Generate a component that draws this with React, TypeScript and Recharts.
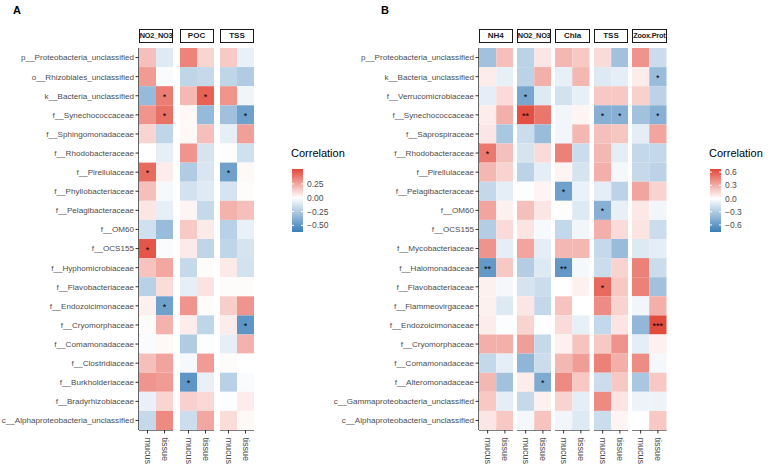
import React from "react";
import { ScatterChart, Scatter, XAxis, YAxis } from "recharts";

const sampleTypes = ["mucus", "tissue"];

// ---- panel A ----
const rowsA = [
  "p__Proteobacteria_unclassified",
  "o__Rhizobiales_unclassified",
  "k__Bacteria_unclassified",
  "f__Synechococcaceae",
  "f__Sphingomonadaceae",
  "f__Rhodobacteraceae",
  "f__Pirellulaceae",
  "f__Phyllobacteriaceae",
  "f__Pelagibacteraceae",
  "f__OM60",
  "f__OCS155",
  "f__Hyphomicrobiaceae",
  "f__Flavobacteriaceae",
  "f__Endozoicimonaceae",
  "f__Cryomorphaceae",
  "f__Comamonadaceae",
  "f__Clostridiaceae",
  "f__Burkholderiaceae",
  "f__Bradyrhizobiaceae",
  "c__Alphaproteobacteria_unclassified",
];
const facetsA = ["NO2_NO3", "POC", "TSS"];

const aNo2Mucus = [0.18, 0.28, -0.33, 0.3, 0.12, 0.0, 0.42, 0.18, 0.07, -0.15, 0.48, 0.17, -0.22, 0.04, 0.01, -0.02, 0.18, 0.3, -0.07, -0.18];
const aNo2Tissue = [-0.1, -0.02, 0.37, 0.4, -0.2, -0.08, 0.05, -0.03, -0.08, -0.32, -0.02, 0.25, 0.1, -0.45, 0.22, 0.02, 0.26, 0.28, 0.12, 0.33];
const aPocMucus = [0.35, -0.2, 0.2, 0.02, 0.02, 0.3, -0.25, -0.14, 0.03, 0.15, 0.06, -0.18, -0.08, 0.3, 0.05, -0.25, -0.03, -0.5, 0.13, -0.16];
const aPocTissue = [0.12, -0.18, 0.45, -0.33, 0.18, -0.13, -0.12, -0.1, -0.18, 0.06, -0.2, 0.01, 0.08, 0.01, -0.2, -0.01, 0.28, -0.07, 0.11, 0.25];
const aTssMucus = [0.15, -0.2, 0.3, -0.3, -0.08, -0.01, -0.45, -0.13, 0.22, -0.22, -0.2, 0.06, 0.01, 0.14, 0.05, -0.08, 0.01, -0.22, -0.01, 0.1];
const aTssTissue = [-0.07, -0.25, -0.05, -0.45, 0.27, -0.15, 0.02, 0.01, 0.18, -0.07, -0.13, -0.14, 0.01, 0.3, -0.5, 0.22, 0.0, -0.02, 0.05, 0.02];

// [facet, sample type, row, label]
const starsA: [string, string, number, string][] = [
  ["NO2_NO3", "tissue", 2, "*"],
  ["NO2_NO3", "tissue", 3, "*"],
  ["POC", "tissue", 2, "*"],
  ["TSS", "tissue", 3, "*"],
  ["NO2_NO3", "mucus", 6, "*"],
  ["TSS", "mucus", 6, "*"],
  ["NO2_NO3", "mucus", 10, "*"],
  ["NO2_NO3", "tissue", 13, "*"],
  ["TSS", "tissue", 14, "*"],
  ["POC", "mucus", 17, "*"],
];

// ---- panel B ----
const rowsB = [
  "p__Proteobacteria_unclassified",
  "k__Bacteria_unclassified",
  "f__Verrucomicrobiaceae",
  "f__Synechococcaceae",
  "f__Saprospiraceae",
  "f__Rhodobacteraceae",
  "f__Pirellulaceae",
  "f__Pelagibacteraceae",
  "f__OM60",
  "f__OCS155",
  "f__Mycobacteriaceae",
  "f__Halomonadaceae",
  "f__Flavobacteriaceae",
  "f__Flammeovirgaceae",
  "f__Endozoicimonaceae",
  "f__Cryomorphaceae",
  "f__Comamonadaceae",
  "f__Alteromonadaceae",
  "c__Gammaproteobacteria_unclassified",
  "c__Alphaproteobacteria_unclassified",
];
const facetsB = ["NH4", "NO2_NO3", "Chla", "TSS", "Zoox.Prot"];

const bNh4Mucus = [-0.36, 0.07, -0.1, 0.07, 0.09, 0.49, 0.26, -0.23, 0.33, -0.29, 0.39, -0.6, 0.05, 0.05, 0.07, 0.29, -0.23, 0.26, 0.2, 0.09];
const bNh4Tissue = [0.23, -0.09, 0.13, 0.29, -0.33, 0.23, 0.16, -0.1, 0.05, 0.13, -0.1, 0.2, -0.04, -0.13, -0.01, 0.29, -0.1, -0.36, -0.1, 0.2];
const bNo2Mucus = [-0.26, -0.26, -0.52, 0.64, -0.2, -0.16, -0.26, -0.01, 0.23, 0.1, 0.33, -0.29, -0.16, 0.09, 0.16, 0.35, -0.43, 0.07, -0.22, -0.04];
const bNo2Tissue = [0.09, 0.29, -0.13, 0.5, -0.39, 0.13, -0.1, 0.04, 0.09, -0.03, -0.1, -0.13, -0.2, -0.23, 0.0, -0.22, -0.2, -0.49, 0.05, 0.22];
const bChlaMucus = [0.26, -0.09, -0.17, -0.05, -0.05, 0.46, 0.04, -0.55, 0.01, -0.23, 0.26, -0.6, 0.0, 0.22, 0.13, 0.05, 0.26, 0.43, 0.16, -0.05];
const bChlaTissue = [0.2, 0.26, -0.09, 0.04, 0.26, -0.2, -0.16, -0.08, -0.13, -0.05, 0.26, -0.04, 0.05, 0.0, -0.09, 0.22, 0.36, 0.2, -0.1, -0.13];
const bTssMucus = [0.13, -0.13, 0.2, -0.46, 0.23, 0.26, 0.29, -0.1, -0.46, 0.29, -0.22, -0.2, 0.55, 0.42, -0.23, 0.2, 0.46, -0.2, 0.43, -0.2];
const bTssTissue = [-0.36, -0.1, 0.2, -0.46, 0.21, -0.1, -0.04, -0.26, -0.09, 0.13, -0.39, 0.16, 0.2, 0.16, 0.1, 0.39, 0.29, 0.2, 0.1, 0.04];
const bZooxMucus = [0.39, 0.07, 0.17, -0.36, -0.1, -0.23, -0.22, 0.33, 0.08, 0.1, -0.13, 0.46, 0.46, -0.05, -0.42, -0.1, 0.42, -0.33, -0.07, 0.0];
const bZooxTissue = [-0.2, -0.39, -0.26, -0.46, 0.33, -0.23, -0.26, 0.16, -0.05, -0.2, -0.1, -0.2, -0.36, 0.29, 0.66, 0.05, -0.04, 0.2, -0.07, 0.2];

const starsB: [string, string, number, string][] = [
  ["Zoox.Prot", "tissue", 1, "*"],
  ["NO2_NO3", "mucus", 2, "*"],
  ["NO2_NO3", "mucus", 3, "**"],
  ["TSS", "mucus", 3, "*"],
  ["TSS", "tissue", 3, "*"],
  ["Zoox.Prot", "tissue", 3, "*"],
  ["NH4", "mucus", 5, "*"],
  ["Chla", "mucus", 7, "*"],
  ["TSS", "mucus", 8, "*"],
  ["NH4", "mucus", 11, "**"],
  ["Chla", "mucus", 11, "**"],
  ["TSS", "mucus", 12, "*"],
  ["Zoox.Prot", "tissue", 14, "***"],
  ["NO2_NO3", "tissue", 17, "*"],
];

const legendTicksA = [0.25, 0, -0.25, -0.5];
const legendTicksB = [0.6, 0.3, 0, -0.3, -0.6];

const HIGH = [227, 72, 58];
const LOW = [58, 125, 184];
const FONT = "'Liberation Sans', Arial, Helvetica, sans-serif";
const PLOT_TOP = 48;
const PLOT_H = 382;
const AXIS_H = 40;

function mix(c: number[], t: number) {
  const k = Math.max(0, Math.min(1, t));
  const ch = c.map((v) => Math.round(255 + (v - 255) * k));
  return `rgb(${ch[0]},${ch[1]},${ch[2]})`;
}

function fillFor(v: number, lo: number, hi: number) {
  return v >= 0 ? mix(HIGH, v / hi) : mix(LOW, v / lo);
}

const XTick = (props: any) => {
  const { x, y, payload } = props;
  return (
    <text
      transform={`translate(${x},${y + 2}) rotate(90)`}
      textAnchor="start"
      dominantBaseline="central"
      fontSize={9}
      fill="#4d4d4d"
      fontFamily={FONT}
    >
      {sampleTypes[payload.value]}
    </text>
  );
};

interface FacetProps {
  name: string;
  rows: string[];
  mucus: number[];
  tissue: number[];
  stars: [string, string, number, string][];
  left: number;
  width: number;
  yWidth: number;
  lo: number;
  hi: number;
}

function Facet({ name, rows, mucus, tissue, stars, left, width, yWidth, lo, hi }: FacetProps) {
  const cols = [mucus, tissue];
  const data = rows.flatMap((r, i) =>
    sampleTypes.map((t, j) => {
      const s = stars.find((st) => st[0] === name && st[1] === t && st[2] === i);
      return { x: j, y: i, v: cols[j][i], star: s ? s[3] : "" };
    })
  );
  const cw = width / 2;
  const chh = PLOT_H / rows.length;
  const showY = yWidth > 0;

  const Cell = (p: any) => (
    <g>
      <rect
        x={p.cx - cw / 2}
        y={p.cy - chh / 2}
        width={cw}
        height={chh}
        fill={fillFor(p.payload.v, lo, hi)}
      />
      {p.payload.star && (
        <text x={p.cx} y={p.cy + 4} textAnchor="middle" fontSize={9} fontFamily={FONT} fill="#000">
          {p.payload.star}
        </text>
      )}
    </g>
  );

  return (
    <>
      <div
        style={{
          position: "absolute",
          left,
          top: 29,
          width: width - 2,
          height: 12,
          border: "1px solid #1a1a1a",
          fontSize: name.length > 6 ? 7.3 : 8,
          fontWeight: "bold",
          lineHeight: "12px",
          textAlign: "center",
          whiteSpace: "nowrap",
          display: "flex",
          justifyContent: "center",
          color: "#1a1a1a",
        }}
      >
        <span style={{ flexShrink: 0, letterSpacing: name.length > 6 ? -0.2 : 0 }}>{name}</span>
      </div>
      <div style={{ position: "absolute", left: left - yWidth, top: PLOT_TOP, overflow: "visible" }}>
        <ScatterChart
          width={width + yWidth}
          height={PLOT_H + AXIS_H}
          margin={{ top: 0, right: 0, bottom: 0, left: 0 }}
          style={{ overflow: "visible" }}
        >
          <XAxis
            type="number"
            dataKey="x"
            domain={[-0.5, 1.5]}
            ticks={[0, 1]}
            height={AXIS_H}
            axisLine={{ stroke: "#000", strokeWidth: 1.2 }}
            tickLine={{ stroke: "#333" }}
            tickSize={3.5}
            tick={<XTick />}
            interval={0}
          />
          <YAxis
            type="number"
            dataKey="y"
            domain={[-0.5, rows.length - 0.5]}
            ticks={rows.map((_, i) => i)}
            reversed
            hide={!showY}
            width={yWidth}
            interval={0}
            axisLine={{ stroke: "#000", strokeWidth: 1.2 }}
            tickLine={{ stroke: "#333" }}
            tickSize={3.5}
            tickMargin={1.5}
            tick={{ fontSize: 8.1, fill: "#4d4d4d", fontFamily: FONT }}
            tickFormatter={(i: number) => rows[i]}
          />
          <Scatter data={data} shape={Cell} isAnimationActive={false} />
        </ScatterChart>
      </div>
    </>
  );
}

function Legend({ left, top, ticks, lo, hi }: { left: number; top: number; ticks: number[]; lo: number; hi: number }) {
  const barTop = 26;
  const barH = 63;
  const yOf = (v: number) => barTop + ((hi - v) / (hi - lo)) * barH;
  const zero = ((hi - 0) / (hi - lo)) * 100;
  const id = `grad${left}`;
  const digits = ticks.includes(0.25) ? 2 : 1;
  return (
    <svg style={{ position: "absolute", left, top }} width={80} height={100}>
      <defs>
        <linearGradient id={id} x1="0" y1="0" x2="0" y2="1">
          <stop offset="0%" stopColor={mix(HIGH, 1)} />
          <stop offset={`${zero}%`} stopColor="#ffffff" />
          <stop offset="100%" stopColor={mix(LOW, 1)} />
        </linearGradient>
      </defs>
      <text x={0} y={14} fontSize={11} fontFamily={FONT} fill="#000">
        Correlation
      </text>
      <rect x={1} y={barTop} width={11} height={barH} fill={`url(#${id})`} />
      {ticks.map((t) => (
        <g key={t}>
          <line x1={1} x2={3} y1={yOf(t)} y2={yOf(t)} stroke="#fff" />
          <line x1={10} x2={12} y1={yOf(t)} y2={yOf(t)} stroke="#fff" />
          <text x={16} y={yOf(t) + 3} fontSize={8.5} fontFamily={FONT} fill="#4d4d4d">
            {t < 0 ? `\u2212${Math.abs(t).toFixed(digits)}` : t.toFixed(digits)}
          </text>
        </g>
      ))}
    </svg>
  );
}

export default function App() {
  const colsA = [
    [aNo2Mucus, aNo2Tissue],
    [aPocMucus, aPocTissue],
    [aTssMucus, aTssTissue],
  ];
  const colsB = [
    [bNh4Mucus, bNh4Tissue],
    [bNo2Mucus, bNo2Tissue],
    [bChlaMucus, bChlaTissue],
    [bTssMucus, bTssTissue],
    [bZooxMucus, bZooxTissue],
  ];
  const loA = -0.62, hiA = 0.52;
  const loB = -0.76, hiB = 0.67;
  return (
    <div
      style={{
        position: "absolute",
        left: 0,
        top: 0,
        width: 776,
        height: 471,
        background: "#fff",
        fontFamily: FONT,
        overflow: "hidden",
      }}
    >
      <div style={{ position: "absolute", left: 13, top: 4, fontSize: 11, fontWeight: "bold" }}>A</div>
      <div style={{ position: "absolute", left: 381, top: 4, fontSize: 11, fontWeight: "bold" }}>B</div>

      {facetsA.map((f, k) => (
        <Facet
          key={"A" + f}
          name={f}
          rows={rowsA}
          mucus={colsA[k][0]}
          tissue={colsA[k][1]}
          stars={starsA}
          left={139 + k * 40.5}
          width={34}
          yWidth={k === 0 ? 138 : 0}
          lo={loA}
          hi={hiA}
        />
      ))}
      {facetsB.map((f, k) => (
        <Facet
          key={"B" + f}
          name={f}
          rows={rowsB}
          mucus={colsB[k][0]}
          tissue={colsB[k][1]}
          stars={starsB}
          left={478.5 + k * 38.4}
          width={34.5}
          yWidth={k === 0 ? 152 : 0}
          lo={loB}
          hi={hiB}
        />
      ))}
      <Legend left={291} top={143} ticks={legendTicksA} lo={loA} hi={hiA} />
      <Legend left={709} top={143} ticks={legendTicksB} lo={loB} hi={hiB} />
    </div>
  );
}
